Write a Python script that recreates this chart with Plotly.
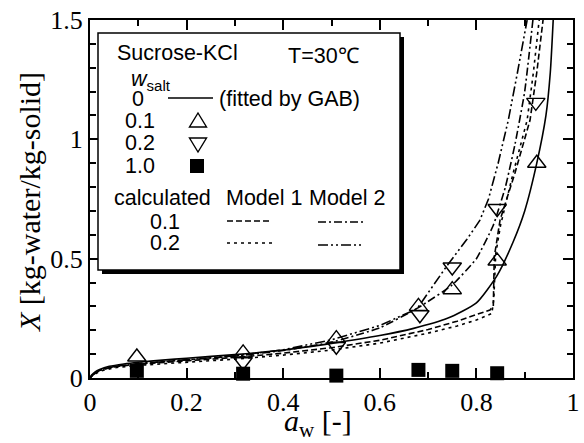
import plotly.graph_objects as go

# ---------------- data ----------------
# GAB fit, w_salt = 0 (solid)
aw_gab = [0, 0.003, 0.01, 0.02, 0.04, 0.07, 0.1, 0.15, 0.2, 0.3, 0.4, 0.5, 0.6, 0.67, 0.74, 0.8,
          0.843, 0.876, 0.9, 0.925, 0.944, 0.953, 0.959]
X_gab = [0, 0.012, 0.025, 0.036, 0.049, 0.059, 0.066, 0.075, 0.083, 0.098, 0.117, 0.145, 0.178, 0.208,
         0.25, 0.315, 0.43, 0.57, 0.70, 0.90, 1.10, 1.28, 1.5]

# Model 1, w_salt = 0.1 (dashed)
aw_m1_01 = [0, 0.005, 0.02, 0.05, 0.1, 0.2, 0.3, 0.4, 0.5, 0.6, 0.7, 0.76, 0.8, 0.828, 0.835, 0.837,
            0.849, 0.88, 0.911, 0.925, 0.938]
X_m1_01 = [0, 0.012, 0.032, 0.047, 0.058, 0.072, 0.086, 0.104, 0.127, 0.158, 0.203, 0.238, 0.265, 0.285,
           0.30, 0.507, 0.662, 0.86, 1.08, 1.28, 1.5]

# Model 1, w_salt = 0.2 (dotted)
aw_m1_02 = [0, 0.005, 0.02, 0.05, 0.1, 0.2, 0.3, 0.4, 0.5, 0.6, 0.7, 0.76, 0.8, 0.832, 0.836, 0.84,
            0.85, 0.875, 0.905, 0.918, 0.93]
X_m1_02 = [0, 0.01, 0.028, 0.043, 0.053, 0.066, 0.079, 0.096, 0.117, 0.146, 0.188, 0.218, 0.243, 0.27,
           0.33, 0.52, 0.64, 0.85, 1.08, 1.28, 1.5]

# Model 2, w_salt = 0.1 (dash-dot)
aw_m2_01 = [0, 0.005, 0.02, 0.05, 0.1, 0.2, 0.3, 0.4, 0.5, 0.6, 0.68, 0.75, 0.8, 0.835, 0.86, 0.88,
            0.9, 0.917]
X_m2_01 = [0, 0.012, 0.033, 0.048, 0.06, 0.076, 0.092, 0.115, 0.15, 0.21, 0.295, 0.39, 0.5, 0.64, 0.8,
           0.98, 1.2, 1.5]

# Model 2, w_salt = 0.2 (dash-dot-dot)
aw_m2_02 = [0, 0.005, 0.02, 0.05, 0.1, 0.2, 0.3, 0.4, 0.5, 0.6, 0.677, 0.739, 0.78, 0.807, 0.825,
            0.845, 0.866, 0.885, 0.905]
X_m2_02 = [0, 0.012, 0.033, 0.048, 0.06, 0.076, 0.093, 0.118, 0.16, 0.22, 0.29, 0.47, 0.58, 0.66, 0.75,
           0.9, 1.08, 1.28, 1.5]

# experimental points
aw_s01 = [0.097, 0.317, 0.51, 0.68, 0.75, 0.843, 0.925]
X_s01 = [0.088, 0.105, 0.165, 0.30, 0.37, 0.49, 0.90]
aw_s02 = [0.317, 0.51, 0.683, 0.75, 0.843, 0.923]
X_s02 = [0.068, 0.133, 0.265, 0.465, 0.71, 1.155]
aw_s10 = [0.097, 0.317, 0.51, 0.68, 0.75, 0.843]
X_s10 = [0.03, 0.018, 0.01, 0.034, 0.03, 0.02]

x_tickvals = [0, 0.2, 0.4, 0.6, 0.8, 1.0]
x_ticktext = ["0", "0.2", "0.4", "0.6", "0.8", "1"]
y_tickvals = [0, 0.5, 1.0, 1.5]
y_ticktext = ["0", "0.5", "1", "1.5"]

# ---------------- layout geometry ----------------
W, H = 584, 443
L, R, T, B = 90, 11, 20, 65
PW = W - L - R
PH = H - T - B


def px(x):
    return (x - L) / PW


def py(y):
    return (H - B - y) / PH


DASH1 = "6px,3px"
DOT1 = "3px,4px"
DASHDOT = "8px,3px,2px,3px"
DASHDOTDOT = "10px,3px,2px,3px,2px,3px"
LW = 1.6

fig = go.Figure()

fig.add_trace(go.Scatter(x=aw_gab, y=X_gab, mode="lines",
                         line=dict(color="black", width=LW, shape="spline", smoothing=0.6)))
fig.add_trace(go.Scatter(x=aw_m1_01, y=X_m1_01, mode="lines",
                         line=dict(color="black", width=LW, dash=DASH1)))
fig.add_trace(go.Scatter(x=aw_m1_02, y=X_m1_02, mode="lines",
                         line=dict(color="black", width=LW, dash=DOT1)))
fig.add_trace(go.Scatter(x=aw_m2_01, y=X_m2_01, mode="lines",
                         line=dict(color="black", width=LW, dash=DASHDOT, shape="spline", smoothing=0.4)))
fig.add_trace(go.Scatter(x=aw_m2_02, y=X_m2_02, mode="lines",
                         line=dict(color="black", width=LW, dash=DASHDOTDOT)))

fig.add_trace(go.Scatter(x=aw_s10, y=X_s10, mode="markers", cliponaxis=False,
                         marker=dict(symbol="square", size=14, color="black")))
fig.add_trace(go.Scatter(x=aw_s01, y=X_s01, mode="markers", cliponaxis=False,
                         marker=dict(symbol="triangle-up-open", size=16, color="black",
                                     line=dict(width=1.4, color="black"))))
fig.add_trace(go.Scatter(x=aw_s02, y=X_s02, mode="markers", cliponaxis=False,
                         marker=dict(symbol="triangle-down-open", size=16, color="black",
                                     line=dict(width=1.4, color="black"))))

axis_common = dict(showline=True, linecolor="black", linewidth=2, mirror="allticks",
                   ticks="inside", ticklen=10, tickwidth=1.5, tickcolor="black",
                   showgrid=False, zeroline=False,
                   tickfont=dict(family="Liberation Serif", size=26, color="black"))

fig.update_xaxes(range=[0, 1], tickmode="array", tickvals=x_tickvals, ticktext=x_ticktext,
                 minor=dict(dtick=0.1, ticks="inside", ticklen=6, tickwidth=1.5, tickcolor="black",
                            showgrid=False),
                 **axis_common)
fig.update_yaxes(range=[0, 1.5], tickmode="array", tickvals=y_tickvals, ticktext=y_ticktext,
                 minor=dict(dtick=0.1, ticks="inside", ticklen=6, tickwidth=1.5, tickcolor="black",
                            showgrid=False),
                 **axis_common)

shapes = []
# legend box with drop shadow
shapes.append(dict(type="rect", xref="paper", yref="paper", x0=px(102), x1=px(404), y0=py(37), y1=py(274),
                   fillcolor="black", line=dict(width=0)))
shapes.append(dict(type="rect", xref="paper", yref="paper", x0=px(98), x1=px(400), y0=py(33), y1=py(270),
                   fillcolor="white", line=dict(color="black", width=1.5)))


def hline(x0, x1, y, dash):
    return dict(type="line", xref="paper", yref="paper", x0=px(x0), x1=px(x1), y0=py(y), y1=py(y),
                line=dict(color="black", width=LW, dash=dash))


shapes.append(hline(168, 213, 98, "solid"))
shapes.append(hline(227, 272, 221, DASH1))
shapes.append(hline(227, 272, 243, DOT1))
shapes.append(hline(318, 363, 222, DASHDOT))
shapes.append(hline(318, 363, 245, DASHDOTDOT))


def tri(cx, cy, up):
    hw, hh = 8.5, 7
    if up:
        pts = [(cx - hw, cy + hh), (cx + hw, cy + hh), (cx, cy - hh)]
    else:
        pts = [(cx - hw, cy - hh), (cx + hw, cy - hh), (cx, cy + hh)]
    path = "M " + " L ".join(f"{px(a):.5f},{py(b):.5f}" for a, b in pts) + " Z"
    return dict(type="path", xref="paper", yref="paper", path=path,
                line=dict(color="black", width=1.4), fillcolor="rgba(0,0,0,0)")


shapes.append(tri(198, 120, True))
shapes.append(tri(198, 145, False))
shapes.append(dict(type="rect", xref="paper", yref="paper", x0=px(190), x1=px(204), y0=py(159), y1=py(173),
                   fillcolor="black", line=dict(width=0)))

LF = dict(family="Liberation Sans", size=21.5, color="black")
anns = []


def txt(t, x, y, anchor="left", font=LF):
    anns.append(dict(text=t, x=px(x), y=py(y), xref="paper", yref="paper", xanchor=anchor,
                     yanchor="middle", showarrow=False, font=font))


txt("Sucrose-KCl", 115, 53)
txt("T=30℃", 286, 56)
txt("<i>w</i><sub>salt</sub>", 129, 81)
txt("0", 138, 99, "center")
txt("(fitted by GAB)", 217, 99)
txt("0.1", 140, 121, "center")
txt("0.2", 140, 143, "center")
txt("1.0", 140, 166, "center")
txt("calculated", 112, 198)
txt("Model 1", 224, 198)
txt("Model 2", 307, 198)
txt("0.1", 165, 222, "center")
txt("0.2", 165, 243, "center")

TF = dict(family="Liberation Serif", size=30, color="black")
anns.append(dict(text="<i>a</i><sub>w</sub> [-]", x=px(318), y=py(423), xref="paper", yref="paper",
                 xanchor="center", yanchor="middle", showarrow=False, font=TF))
anns.append(dict(text="<i>X</i> [kg-water/kg-solid]", x=px(29), y=py(202), xref="paper", yref="paper",
                 xanchor="center", yanchor="middle", textangle=-90, showarrow=False, font=TF))

fig.update_layout(width=W, height=H, margin=dict(l=L, r=R, t=T, b=B, autoexpand=False),
                  plot_bgcolor="white", paper_bgcolor="white", showlegend=False,
                  shapes=shapes, annotations=anns)

fig.write_html("out.html")
